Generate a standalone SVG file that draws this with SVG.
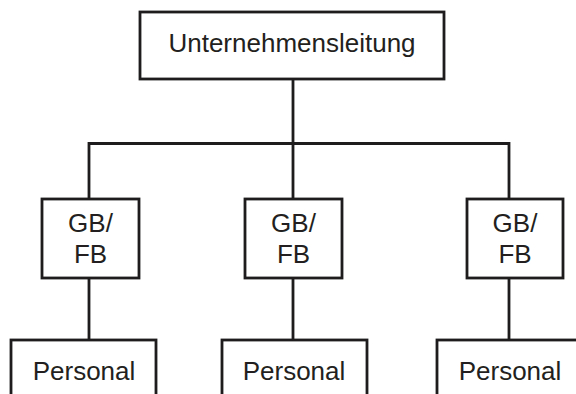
<svg xmlns="http://www.w3.org/2000/svg" width="576" height="394" viewBox="0 0 576 394">
  <style>
    .box { fill: #ffffff; stroke: #1e1c1c; stroke-width: 2.8; }
    .wire { fill: none; stroke: #1e1c1c; stroke-width: 2.8; }
    .lbl { font-family: "Liberation Sans", Arial, sans-serif; font-size: 26px; fill: #231f20; text-anchor: middle; }
  </style>
  <rect width="576" height="394" fill="#ffffff"/>
  <g id="connectors">
    <path class="wire" d="M293 79 V143.5 M89 199 V143.5 H509 V199 M293 143.5 V199"/>
    <path class="wire" d="M89 278 V340 M293 278 V340 M509 278 V340"/>
  </g>
  <g id="unternehmensleitung">
    <rect class="box" x="140" y="12" width="304" height="67"/>
    <text class="lbl" x="292" y="52">Unternehmensleitung</text>
  </g>
  <g id="gbfb-1">
    <rect class="box" x="42" y="199" width="97" height="79"/>
    <text class="lbl" x="90.5" y="232">GB/</text>
    <text class="lbl" x="90.5" y="263">FB</text>
  </g>
  <g id="gbfb-2">
    <rect class="box" x="245" y="199" width="97" height="79"/>
    <text class="lbl" x="293.5" y="232">GB/</text>
    <text class="lbl" x="293.5" y="263">FB</text>
  </g>
  <g id="gbfb-3">
    <rect class="box" x="467" y="199" width="96" height="79"/>
    <text class="lbl" x="515" y="232">GB/</text>
    <text class="lbl" x="515" y="263">FB</text>
  </g>
  <g id="personal-1">
    <rect class="box" x="11" y="340" width="145" height="70"/>
    <text class="lbl" x="84" y="380">Personal</text>
  </g>
  <g id="personal-2">
    <rect class="box" x="222" y="340" width="145" height="70"/>
    <text class="lbl" x="294" y="380">Personal</text>
  </g>
  <g id="personal-3">
    <rect class="box" x="437" y="340" width="145" height="70"/>
    <text class="lbl" x="510" y="380">Personal</text>
  </g>
</svg>
